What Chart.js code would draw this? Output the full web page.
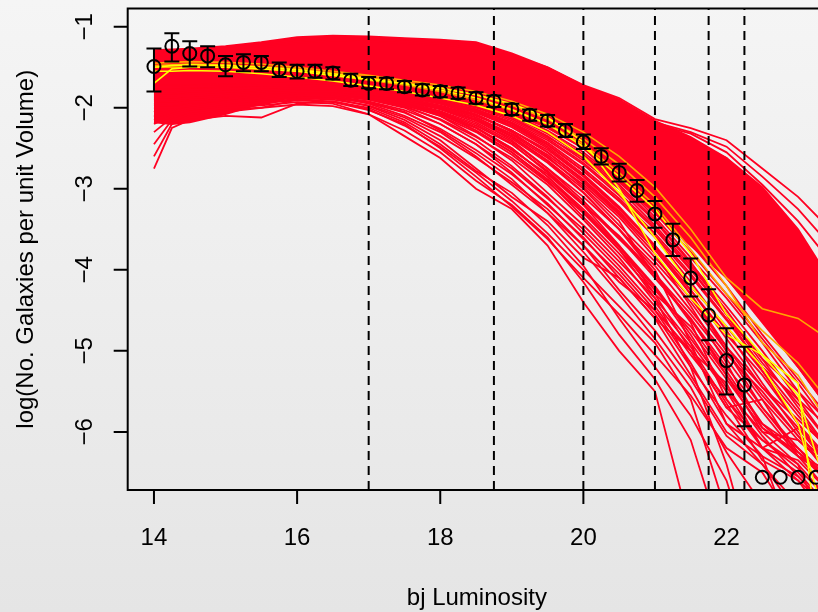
<!DOCTYPE html>
<html>
<head>
<meta charset="utf-8">
<script src="https://cdn.jsdelivr.net/npm/chart.js@4"></script>
<style>
  html, body { margin: 0; padding: 0; overflow: hidden; }
  body { width: 818px; height: 612px; background: linear-gradient(#f5f5f5, #e5e5e5); }
  #wrap { width: 840px; height: 612px; }
</style>
</head>
<body>
<div id="wrap"><canvas id="chart" width="840" height="612"></canvas></div>
<script>
// observed luminosity function (points + error bars)
const obsX = [14, 14.25, 14.5, 14.75, 15, 15.25, 15.5, 15.75, 16, 16.25, 16.5, 16.75, 17, 17.25, 17.5, 17.75,
  18, 18.25, 18.5, 18.75, 19, 19.25, 19.5, 19.75, 20, 20.25, 20.5, 20.75, 21, 21.25, 21.5, 21.75, 22, 22.25,
  22.5, 22.75, 23, 23.25];
const obsY = [-1.49, -1.24, -1.33, -1.36, -1.47, -1.44, -1.44, -1.53, -1.55, -1.55, -1.57, -1.66, -1.70, -1.70,
  -1.74, -1.78, -1.80, -1.82, -1.88, -1.92, -2.02, -2.09, -2.16, -2.28, -2.42, -2.60, -2.80, -3.02, -3.31, -3.63,
  -4.10, -4.56, -5.12, -5.42, -6.56, -6.56, -6.56, -6.56];
const obsLow = [-1.80, -1.43, -1.49, -1.50, -1.61, -1.55, -1.55, -1.62, -1.64, -1.63, -1.65, -1.73, -1.76, -1.77,
  -1.81, -1.85, -1.87, -1.89, -1.95, -1.99, -2.09, -2.16, -2.23, -2.36, -2.51, -2.70, -2.91, -3.16, -3.48, -3.83,
  -4.33, -4.87, -5.54, -5.93, null, null, null, null];
const obsHigh = [-1.27, -1.08, -1.18, -1.24, -1.36, -1.34, -1.36, -1.44, -1.47, -1.47, -1.50, -1.58, -1.62, -1.63,
  -1.67, -1.71, -1.73, -1.75, -1.81, -1.85, -1.95, -2.02, -2.09, -2.20, -2.33, -2.50, -2.69, -2.89, -3.15, -3.43,
  -3.86, -4.24, -4.72, -4.95, null, null, null, null];

// model runs, all sampled on the same magnitudes
const modelX = [14, 14.25, 14.5, 15, 15.5, 16, 16.5, 17, 17.5, 18, 18.5, 19, 19.5, 20, 20.5, 21, 21.5, 22, 22.5, 23, 23.5];
const bandTop = [-1.29, -1.28, -1.27, -1.24, -1.19, -1.13, -1.11, -1.12, -1.14, -1.16, -1.19, -1.33, -1.50, -1.73, -1.90, -2.16, -2.36, -2.62, -2.98, -3.50, -4.20];
const bandBottom = [-2.18, -2.20, -2.18, -2.08, -1.95, -1.86, -1.83, -1.83, -1.85, -1.88, -1.95, -2.07, -2.25, -2.50, -2.90, -3.30, -3.70, -4.10, -4.65, -5.20, -5.80];
const redRuns = [
  [-2.20, -2.10, -2.05, -2.00, -1.97, -1.93, -1.95, -2.08, -2.35, -2.62, -3.00, -3.25, -3.70, -4.40, -5.00, -5.50, -7.20, -8, -8, -8, -8],
  [-2.75, -2.25, -2.15, -2.10, -2.12, -1.95, -1.92, -2.02, -2.22, -2.48, -2.80, -3.15, -3.55, -4.00, -4.45, -4.90, -5.60, -7.00, -8, -8, -8],
  [-2.60, -2.20, -2.10, -2.05, -2.00, -1.90, -1.88, -1.98, -2.15, -2.40, -2.75, -3.10, -3.40, -3.85, -4.10, -4.60, -5.30, -6.00, -6.30, -7.50, -8],
  [-2.45, -2.15, -2.08, -2.02, -1.96, -1.88, -1.86, -1.95, -2.10, -2.30, -2.60, -2.95, -3.30, -3.70, -4.15, -4.50, -5.00, -5.70, -6.10, -6.40, -7.50],
  [-2.10, -2.05, -2.00, -1.95, -1.90, -1.85, -1.84, -1.90, -2.00, -2.20, -2.45, -2.80, -3.20, -3.60, -4.10, -4.60, -5.00, -5.40, -6.20, -6.60, -7.20],
  [-2.00, -2.00, -1.98, -1.93, -1.88, -1.84, -1.83, -1.86, -1.95, -2.10, -2.35, -2.65, -3.05, -3.45, -3.90, -4.35, -4.90, -5.50, -6.00, -6.40, -6.90],
  [-2.05, -2.02, -1.98, -1.92, -1.87, -1.82, -1.82, -1.85, -1.92, -2.05, -2.28, -2.55, -2.90, -3.35, -3.80, -4.30, -4.70, -5.30, -5.90, -6.30, -6.60],
  [-1.95, -1.95, -1.93, -1.90, -1.85, -1.83, -1.84, -1.88, -1.98, -2.15, -2.40, -2.72, -3.10, -3.55, -4.00, -4.50, -5.15, -5.90, -6.40, -7.00, -8],
  [-1.90, -1.90, -1.88, -1.85, -1.82, -1.80, -1.80, -1.83, -1.88, -1.98, -2.12, -2.35, -2.65, -3.00, -3.45, -3.90, -4.40, -5.00, -5.60, -6.10, -6.50],
  [-1.85, -1.85, -1.85, -1.83, -1.80, -1.78, -1.79, -1.82, -1.87, -1.95, -2.08, -2.28, -2.55, -2.90, -3.30, -3.75, -4.25, -4.80, -5.30, -5.90, -6.40],
  [-1.90, -1.90, -1.88, -1.86, -1.84, -1.82, -1.83, -1.86, -1.90, -2.00, -2.15, -2.40, -2.75, -3.15, -3.60, -4.10, -4.60, -5.20, -5.75, -6.30, -6.80],
  [-1.92, -1.90, -1.88, -1.85, -1.83, -1.80, -1.82, -1.88, -1.96, -2.08, -2.25, -2.50, -2.85, -3.25, -3.70, -4.20, -4.80, -5.50, -6.20, -6.50, -7.00],
  [-1.80, -1.80, -1.78, -1.77, -1.75, -1.74, -1.75, -1.78, -1.82, -1.88, -1.98, -2.12, -2.35, -2.65, -3.00, -3.45, -3.95, -4.50, -5.10, -5.70, -6.30],
  [-1.75, -1.75, -1.74, -1.73, -1.72, -1.72, -1.73, -1.76, -1.80, -1.86, -1.95, -2.08, -2.28, -2.55, -2.90, -3.35, -3.85, -4.35, -4.90, -5.50, -6.10],
  [-1.85, -1.85, -1.83, -1.80, -1.78, -1.76, -1.77, -1.80, -1.85, -1.92, -2.03, -2.20, -2.45, -2.78, -3.15, -3.60, -4.15, -4.75, -5.40, -6.00, -6.60],
  [-1.88, -1.87, -1.86, -1.84, -1.82, -1.80, -1.81, -1.85, -1.92, -2.02, -2.18, -2.42, -2.75, -3.10, -3.50, -4.00, -4.90, -5.90, -6.20, -6.35, -6.80],
  [-1.82, -1.82, -1.80, -1.78, -1.76, -1.75, -1.76, -1.80, -1.86, -1.95, -2.08, -2.30, -2.60, -2.98, -3.40, -4.10, -4.60, -5.30, -6.00, -6.10, -6.50],
  [-2.15, -2.08, -2.02, -1.98, -1.93, -1.90, -1.92, -2.00, -2.18, -2.45, -2.78, -3.05, -3.45, -3.95, -4.60, -5.20, -5.80, -6.60, -8, -8, -8],
  [-2.05, -2.00, -1.96, -1.94, -1.91, -1.88, -1.90, -1.97, -2.12, -2.35, -2.62, -2.92, -3.25, -3.70, -4.25, -4.75, -5.35, -6.05, -6.40, -6.90, -8],
  [-1.98, -1.96, -1.94, -1.92, -1.89, -1.87, -1.88, -1.94, -2.06, -2.26, -2.52, -2.82, -3.18, -3.62, -4.05, -4.55, -5.20, -5.80, -6.30, -6.55, -7.00],
  [-1.96, -1.95, -1.93, -1.90, -1.87, -1.85, -1.86, -1.92, -2.03, -2.20, -2.45, -2.75, -3.12, -3.50, -3.95, -4.45, -5.05, -5.60, -6.10, -6.45, -6.90],
  [-1.93, -1.92, -1.90, -1.88, -1.85, -1.83, -1.85, -1.90, -1.99, -2.14, -2.36, -2.62, -2.95, -3.38, -3.85, -4.40, -4.95, -5.65, -6.35, -6.60, -7.00],
  [-1.90, -1.89, -1.88, -1.86, -1.84, -1.82, -1.84, -1.89, -1.97, -2.10, -2.30, -2.58, -2.92, -3.30, -3.75, -4.25, -4.75, -5.35, -5.95, -6.25, -6.60],
  [-1.88, -1.88, -1.87, -1.85, -1.83, -1.81, -1.83, -1.87, -1.94, -2.05, -2.22, -2.45, -2.78, -3.18, -3.62, -4.05, -4.55, -5.10, -5.70, -6.20, -6.70],
  [-1.86, -1.86, -1.85, -1.83, -1.81, -1.80, -1.81, -1.85, -1.91, -2.01, -2.16, -2.38, -2.68, -3.05, -3.50, -3.95, -4.50, -5.05, -5.50, -6.05, -6.60],
  [-1.84, -1.84, -1.83, -1.81, -1.79, -1.78, -1.79, -1.83, -1.89, -1.98, -2.12, -2.33, -2.62, -2.95, -3.35, -3.85, -4.35, -4.95, -5.45, -5.95, -6.50],
  [-1.83, -1.83, -1.82, -1.80, -1.78, -1.77, -1.78, -1.81, -1.87, -1.95, -2.09, -2.28, -2.52, -2.85, -3.25, -3.70, -4.20, -4.70, -5.25, -5.80, -6.30],
  [-1.81, -1.81, -1.80, -1.79, -1.77, -1.76, -1.77, -1.80, -1.85, -1.93, -2.05, -2.22, -2.46, -2.78, -3.15, -3.58, -4.08, -4.62, -5.20, -5.75, -6.30],
  [-1.79, -1.79, -1.78, -1.77, -1.76, -1.75, -1.76, -1.79, -1.84, -1.91, -2.02, -2.18, -2.40, -2.70, -3.08, -3.50, -4.00, -4.55, -5.15, -5.65, -6.20],
  [-1.78, -1.78, -1.77, -1.76, -1.75, -1.74, -1.75, -1.78, -1.82, -1.89, -1.99, -2.14, -2.36, -2.62, -2.98, -3.40, -3.92, -4.45, -5.00, -5.60, -6.20],
  [-1.77, -1.77, -1.76, -1.75, -1.74, -1.73, -1.74, -1.77, -1.81, -1.87, -1.97, -2.10, -2.30, -2.58, -2.92, -3.30, -3.78, -4.30, -4.85, -5.40, -6.00],
  [-2.30, -2.12, -2.06, -2.02, -2.00, -1.96, -1.98, -2.08, -2.28, -2.55, -2.90, -3.20, -3.60, -4.15, -4.80, -5.35, -6.10, -7.50, -8, -8, -8],
  [-2.12, -2.06, -2.02, -1.99, -1.94, -1.91, -1.93, -2.03, -2.20, -2.50, -2.85, -3.22, -3.62, -4.10, -4.55, -5.05, -5.55, -6.20, -6.50, -7.20, -8],
  [-1.87, -1.87, -1.86, -1.84, -1.82, -1.81, -1.82, -1.86, -1.93, -2.04, -2.20, -2.44, -2.80, -3.20, -3.70, -4.30, -5.00, -5.70, -5.60, -6.30, -6.50],
  [-1.86, -1.86, -1.85, -1.83, -1.81, -1.79, -1.80, -1.84, -1.90, -2.00, -2.14, -2.36, -2.66, -3.04, -3.50, -4.05, -4.65, -5.60, -6.20, -5.95, -6.40],
  [-1.80, -1.80, -1.79, -1.78, -1.76, -1.75, -1.76, -1.79, -1.84, -1.92, -2.04, -2.22, -2.48, -2.82, -3.22, -3.70, -4.30, -5.00, -5.70, -6.25, -6.70],
  [-1.76, -1.76, -1.75, -1.74, -1.73, -1.72, -1.73, -1.76, -1.80, -1.86, -1.96, -2.10, -2.32, -2.60, -2.95, -3.38, -3.90, -4.55, -5.25, -5.90, -6.50],
  [-1.74, -1.74, -1.73, -1.72, -1.71, -1.70, -1.71, -1.74, -1.78, -1.84, -1.93, -2.05, -2.24, -2.50, -2.84, -3.22, -3.68, -4.20, -4.80, -5.35, -5.90],
  [-1.72, -1.72, -1.72, -1.71, -1.70, -1.69, -1.70, -1.73, -1.77, -1.83, -1.91, -2.03, -2.20, -2.45, -2.78, -3.15, -3.60, -4.10, -4.62, -5.20, -5.80],
  [-1.95, -1.94, -1.92, -1.89, -1.86, -1.84, -1.85, -1.89, -1.96, -2.08, -2.28, -2.55, -2.88, -3.28, -3.72, -4.22, -4.85, -5.45, -6.05, -6.55, -7.00],
  [-1.91, -1.90, -1.89, -1.87, -1.85, -1.83, -1.84, -1.88, -1.95, -2.07, -2.25, -2.52, -2.82, -3.20, -3.58, -4.05, -4.62, -5.25, -5.90, -6.20, -6.60],
  [-2.02, -1.99, -1.96, -1.93, -1.89, -1.86, -1.87, -1.93, -2.05, -2.28, -2.56, -2.88, -3.30, -3.78, -4.30, -4.85, -5.45, -6.25, -6.90, -8, -8],
  [-1.84, -1.84, -1.83, -1.81, -1.80, -1.79, -1.80, -1.84, -1.90, -1.99, -2.12, -2.32, -2.58, -2.92, -3.32, -3.80, -4.45, -5.15, -5.95, -6.30, -6.60],
  [-1.82, -1.82, -1.81, -1.79, -1.78, -1.77, -1.78, -1.82, -1.88, -1.97, -2.10, -2.28, -2.55, -2.88, -3.28, -3.75, -4.30, -4.95, -5.55, -6.05, -6.45],
  [-1.80, -1.80, -1.79, -1.78, -1.77, -1.76, -1.77, -1.81, -1.86, -1.94, -2.06, -2.24, -2.50, -2.84, -3.24, -3.72, -4.25, -4.85, -5.45, -5.85, -6.25],
  [-1.78, -1.78, -1.77, -1.76, -1.75, -1.74, -1.75, -1.79, -1.84, -1.91, -2.02, -2.19, -2.43, -2.75, -3.12, -3.55, -4.05, -4.60, -5.20, -5.60, -6.00],
  [-1.76, -1.76, -1.75, -1.74, -1.73, -1.72, -1.73, -1.77, -1.82, -1.89, -2.00, -2.16, -2.38, -2.68, -3.05, -3.48, -3.98, -4.55, -5.10, -5.50, -5.95],
  [-1.88, -1.88, -1.87, -1.85, -1.83, -1.82, -1.83, -1.87, -1.94, -2.06, -2.24, -2.50, -2.85, -3.28, -3.75, -4.35, -5.20, -6.40, -8, -8, -8],
  // upper fringe on the faint end
  [-1.30, -1.29, -1.28, -1.25, -1.20, -1.14, -1.12, -1.13, -1.15, -1.17, -1.20, -1.35, -1.50, -1.72, -1.88, -2.14, -2.25, -2.40, -2.75, -3.10, -3.55],
  [-1.32, -1.30, -1.30, -1.27, -1.22, -1.16, -1.13, -1.14, -1.16, -1.19, -1.24, -1.38, -1.55, -1.78, -1.95, -2.18, -2.30, -2.48, -2.85, -3.25, -3.75],
  [-1.33, -1.32, -1.31, -1.28, -1.24, -1.18, -1.15, -1.16, -1.18, -1.21, -1.27, -1.42, -1.60, -1.83, -2.00, -2.20, -2.32, -2.55, -2.95, -3.40, -3.95],
  [-1.35, -1.34, -1.33, -1.30, -1.26, -1.20, -1.17, -1.18, -1.20, -1.23, -1.30, -1.45, -1.65, -1.88, -2.05, -2.25, -2.40, -2.62, -3.05, -3.55, -4.20]
];
const orangeRuns = [
  [-1.45, -1.44, -1.43, -1.44, -1.46, -1.50, -1.55, -1.60, -1.66, -1.72, -1.80, -1.92, -2.08, -2.30, -2.60, -2.98, -3.50, -4.10, -4.48, -4.60, -4.90],
  [-1.50, -1.50, -1.50, -1.50, -1.52, -1.55, -1.60, -1.66, -1.72, -1.80, -1.90, -2.03, -2.20, -2.45, -2.80, -3.20, -3.75, -4.30, -4.75, -5.15, -5.70],
  [-1.48, -1.47, -1.46, -1.47, -1.49, -1.52, -1.57, -1.62, -1.68, -1.75, -1.84, -1.97, -2.14, -2.38, -2.70, -3.10, -3.60, -4.20, -4.90, -5.30, -6.00]
];
const yellowRuns = [
  [-1.70, -1.52, -1.50, -1.50, -1.52, -1.55, -1.60, -1.65, -1.70, -1.76, -1.84, -1.95, -2.12, -2.42, -3.00, -3.80, -4.35, -4.80, -5.05, -5.40, -9.00],
  [-1.50, -1.48, -1.47, -1.48, -1.50, -1.53, -1.58, -1.64, -1.70, -1.78, -1.88, -2.02, -2.20, -2.48, -2.85, -3.25, -3.80, -4.55, -5.05, -5.55, -7.00],
  [-1.55, -1.55, -1.54, -1.55, -1.58, -1.62, -1.67, -1.73, -1.80, -1.88, -1.97, -2.10, -2.30, -2.60, -3.05, -3.60, -4.20, -4.70, -5.20, -5.90, -7.50]
];
const cutX = [17, 18.75, 20, 21, 21.75, 22.25];
const xTicks = [14, 16, 18, 20, 22];
const yTicks = [-1, -2, -3, -4, -5, -6];

const X_MIN = 13.633, X_MAX = 23.39, Y_MIN = -6.717, Y_MAX = -0.775;
const RED = "#ff0022", ORANGE = "#ffa500", YELLOW = "#ffff00";

const toPoints = (ys) => modelX.map((x, i) => ({ x: x, y: ys[i] }));

const datasets = [];
datasets.push({
  data: obsX.map((x, i) => ({ x: x, y: obsY[i] })),
  showLine: false,
  pointRadius: 6.5,
  pointBorderWidth: 2,
  pointBorderColor: "#000",
  pointBackgroundColor: "rgba(0,0,0,0)",
  order: 0,
});
cutX.forEach((v) => {
  datasets.push({
    data: [{ x: v, y: Y_MIN }, { x: v, y: Y_MAX }],
    borderColor: "#000",
    borderWidth: 2,
    borderDash: [9, 6],
    pointRadius: 0,
    order: 1,
  });
});
yellowRuns.forEach((r) => {
  datasets.push({ data: toPoints(r), borderColor: YELLOW, borderWidth: 1.6, pointRadius: 0, order: 2 });
});
orangeRuns.forEach((r) => {
  datasets.push({ data: toPoints(r), borderColor: ORANGE, borderWidth: 1.6, pointRadius: 0, order: 3 });
});
redRuns.forEach((r) => {
  datasets.push({ data: toPoints(r), borderColor: RED, borderWidth: 1.8, pointRadius: 0, order: 4 });
});
datasets.push({ data: toPoints(bandTop), borderColor: RED, borderWidth: 1.8, pointRadius: 0, order: 5 });
datasets.push({
  data: toPoints(bandBottom),
  borderColor: RED,
  borderWidth: 1.8,
  pointRadius: 0,
  backgroundColor: RED,
  fill: "-1",
  order: 5,
});

const errorBars = {
  id: "errorBars",
  afterDatasetsDraw(chart) {
    const { ctx, scales: { x, y } } = chart;
    ctx.save();
    ctx.strokeStyle = "#000";
    ctx.lineWidth = 2;
    obsX.forEach((v, i) => {
      if (obsLow[i] == null) return;
      const px = x.getPixelForValue(v);
      const yl = y.getPixelForValue(obsLow[i]);
      const yh = y.getPixelForValue(obsHigh[i]);
      ctx.beginPath();
      ctx.moveTo(px, yl); ctx.lineTo(px, yh);
      ctx.moveTo(px - 7.5, yl); ctx.lineTo(px + 7.5, yl);
      ctx.moveTo(px - 7.5, yh); ctx.lineTo(px + 7.5, yh);
      ctx.stroke();
    });
    ctx.restore();
  },
};

// base-graphics style box, ticks and labels
const rAxes = {
  id: "rAxes",
  afterDraw(chart) {
    const { ctx, chartArea: a, scales: { x, y } } = chart;
    ctx.save();
    ctx.strokeStyle = "#000";
    ctx.fillStyle = "#000";
    ctx.lineWidth = 2;
    ctx.strokeRect(a.left, a.top, a.right - a.left, a.bottom - a.top);
    ctx.font = '24px "Liberation Sans", Arial, sans-serif';

    ctx.beginPath();
    xTicks.forEach((t) => {
      const px = x.getPixelForValue(t);
      ctx.moveTo(px, a.bottom); ctx.lineTo(px, a.bottom + 14);
    });
    yTicks.forEach((t) => {
      const py = y.getPixelForValue(t);
      ctx.moveTo(a.left, py); ctx.lineTo(a.left - 14, py);
    });
    ctx.stroke();

    ctx.textAlign = "center";
    ctx.textBaseline = "alphabetic";
    xTicks.forEach((t) => {
      ctx.fillText(String(t), x.getPixelForValue(t), 545);
    });
    yTicks.forEach((t) => {
      ctx.save();
      ctx.translate(92, y.getPixelForValue(t));
      ctx.rotate(-Math.PI / 2);
      ctx.fillText("\u2212" + Math.abs(t), 0, 0);
      ctx.restore();
    });

    ctx.fillText("bj Luminosity", (a.left + a.right) / 2, 605);
    ctx.save();
    ctx.translate(33, (a.top + a.bottom) / 2);
    ctx.rotate(-Math.PI / 2);
    ctx.fillText("log(No. Galaxies per unit Volume)", 0, 0);
    ctx.restore();
    ctx.restore();
  },
};

new Chart(document.getElementById("chart"), {
  type: "line",
  data: { datasets: datasets },
  options: {
    responsive: false,
    animation: false,
    layout: { padding: { left: 127.7, top: 6.7, right: 14, bottom: 122 } },
    elements: { line: { tension: 0 } },
    scales: {
      x: { type: "linear", min: X_MIN, max: X_MAX, display: false },
      y: { type: "linear", min: Y_MIN, max: Y_MAX, display: false },
    },
    plugins: {
      legend: { display: false },
      tooltip: { enabled: false },
    },
  },
  plugins: [errorBars, rAxes],
});
</script>
</body>
</html>
